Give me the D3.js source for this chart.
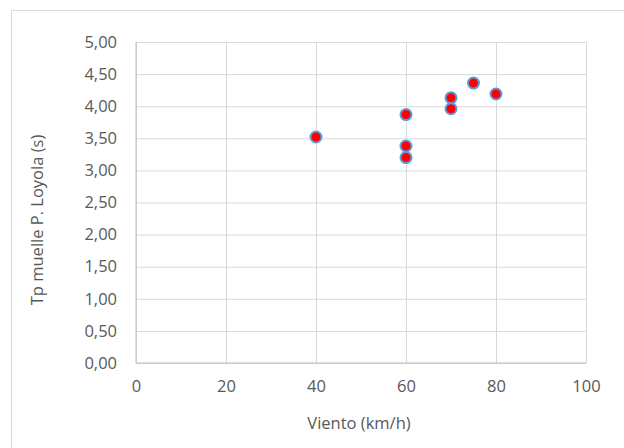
<!DOCTYPE html>
<html>
<head>
<meta charset="utf-8">
<script src="https://cdn.jsdelivr.net/npm/d3@7"></script>
<style>
  html, body { margin: 0; padding: 0; background: #fff; }
  svg { display: block; font-family: "Open Sans", sans-serif; }
</style>
</head>
<body>
<svg id="chart" width="624" height="448"></svg>
<script>
// Wind speed (km/h) against peak period at the P. Loyola pier (s)
const viento = [40, 60, 60, 60, 70, 70, 75, 80];
const tp = [3.52, 3.87, 3.38, 3.20, 4.13, 3.96, 4.36, 4.19];
const xTicks = [0, 20, 40, 60, 80, 100];
const yTicks = [0, 0.5, 1, 1.5, 2, 2.5, 3, 3.5, 4, 4.5, 5];

const svg = d3.select("#chart");
const plot = { left: 136, right: 586, top: 42, bottom: 363 };
const FONT = "'Open Sans', sans-serif";
const FS = 16.5;

// chart frame
svg.append("rect")
  .attr("x", 11.5).attr("y", 10.5)
  .attr("width", 630).attr("height", 450)
  .attr("fill", "#fff").attr("stroke", "#d9d9d9").attr("stroke-width", 1);

const x = d3.scaleLinear().domain([0, 100]).range([plot.left, plot.right]);
const y = d3.scaleLinear().domain([0, 5]).range([plot.bottom, plot.top]);

const fmt = v => d3.format(".2f")(v).replace(".", ",");

// gridlines
const gx = svg.append("g")
  .attr("transform", `translate(0,${plot.bottom})`)
  .call(d3.axisBottom(x).tickValues(xTicks).tickSize(-(plot.bottom - plot.top)).tickFormat(""));
gx.select(".domain").remove();
gx.selectAll("line").attr("stroke", "#d9d9d9").attr("stroke-width", 1);

const gy = svg.append("g")
  .attr("transform", `translate(${plot.left},0)`)
  .call(d3.axisLeft(y).tickValues(yTicks).tickSize(-(plot.right - plot.left)).tickFormat(""));
gy.select(".domain").remove();
gy.selectAll("line").attr("stroke", "#d9d9d9").attr("stroke-width", 1);

// axis lines
svg.append("line")
  .attr("x1", x(0)).attr("x2", x(100)).attr("y1", y(0)).attr("y2", y(0))
  .attr("stroke", "#bfbfbf").attr("stroke-width", 1);
svg.append("line")
  .attr("x1", x(0)).attr("x2", x(0)).attr("y1", y(0)).attr("y2", y(5))
  .attr("stroke", "#bfbfbf").attr("stroke-width", 1);

// tick labels
const xl = svg.append("g")
  .attr("transform", `translate(0,${plot.bottom + 17})`)
  .call(d3.axisBottom(x).tickValues(xTicks).tickSize(0).tickPadding(0).tickFormat(d3.format("d")));
xl.select(".domain").remove();
xl.selectAll("text").attr("fill", "#595959").attr("font-size", FS).attr("font-family", FONT);

const yl = svg.append("g")
  .attr("transform", `translate(${plot.left - 19},0)`)
  .call(d3.axisLeft(y).tickValues(yTicks).tickSize(0).tickPadding(0).tickFormat(fmt));
yl.select(".domain").remove();
yl.selectAll("text").attr("fill", "#595959").attr("font-size", FS).attr("font-family", FONT);

// axis titles
svg.append("text")
  .attr("x", 359).attr("y", 429)
  .attr("text-anchor", "middle").attr("fill", "#595959")
  .attr("font-size", FS).attr("font-family", FONT)
  .text("Viento (km/h)");
svg.append("text")
  .attr("transform", `translate(43,220) rotate(-90)`)
  .attr("text-anchor", "middle").attr("fill", "#595959")
  .attr("font-size", FS).attr("font-family", FONT)
  .text("Tp muelle P. Loyola (s)");

// markers
svg.append("g").selectAll("circle")
  .data(viento.map((v, i) => [v, tp[i]]))
  .join("circle")
  .attr("cx", d => x(d[0])).attr("cy", d => y(d[1]))
  .attr("r", 5.5)
  .attr("fill", "#ff0000")
  .attr("stroke", "#5b9bd5").attr("stroke-width", 2);
</script>
</body>
</html>
